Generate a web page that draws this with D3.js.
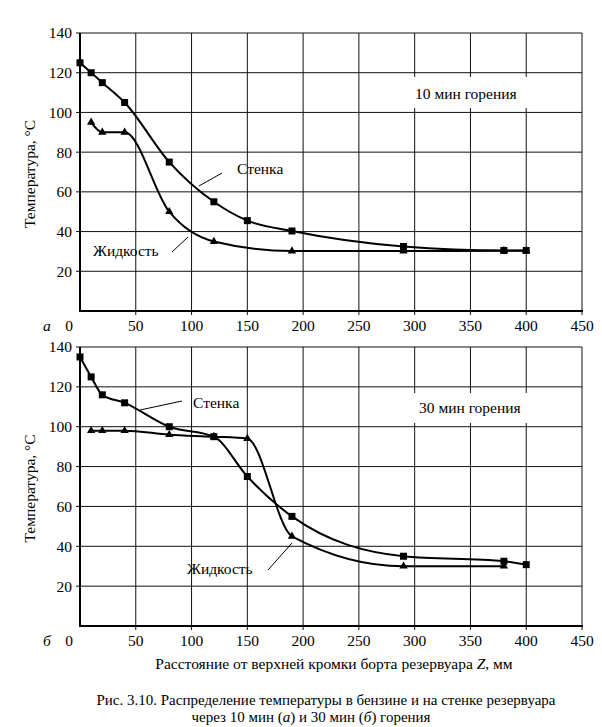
<!DOCTYPE html>
<html><head><meta charset="utf-8">
<script src="https://cdn.jsdelivr.net/npm/d3@7"></script>
<style>
body{margin:0;background:#fff;}
</style></head>
<body><svg id="c" width="602" height="727"></svg>
<script>
// ---- data ----
const xTicks = [0,50,100,150,200,250,300,350,400,450];
const yTicks = [20,40,60,80,100,120,140];

// Panel а (10 min)
const wallZ_a   = [0,10,20,40,80,120,150,190,290,380,400];
const wallT_a   = [125,120,115,105,75,55,45.5,40.3,32.5,30.5,30.5];
const liqZ_a    = [10,20,40,80,120,190,290,380,400];
const liqT_a    = [95,90,90,50,35,30.2,30.2,30.3,30.3];

// Panel б (30 min)
const wallZ_b   = [0,10,20,40,80,120,150,190,290,380,400];
const wallT_b   = [135,125,116,112,100,95,75,55,35,32.5,30.8];
const liqZ_b    = [10,20,40,80,120,150,190,290,380];
const liqT_b    = [98,98,98,96,95,94,45,30,30];

const FONT = "'Liberation Serif', 'Times New Roman', serif";
const svg = d3.select("#c");
const x = d3.scaleLinear().domain([0,450]).range([80,582]);

function txt(g){ return g.append("text").style("font-family",FONT).attr("fill","#000"); }

function panel(top, bottom, wallZ, wallT, liqZ, liqT, cfg){
  const y = d3.scaleLinear().domain([0,140]).range([bottom, top]);
  const g = svg.append("g");
  // grid
  g.selectAll(".vg").data(xTicks.filter(d=>d>0)).enter().append("line")
    .attr("x1",d=>x(d)).attr("x2",d=>x(d)).attr("y1",y(140)).attr("y2",y(0)+4)
    .attr("stroke","#111").attr("stroke-width",1);
  g.selectAll(".hg").data(yTicks).enter().append("line")
    .attr("x1",x(0)-4).attr("x2",x(450)).attr("y1",d=>y(d)).attr("y2",d=>y(d))
    .attr("stroke","#111").attr("stroke-width",1);
  // axes
  g.append("line").attr("x1",x(0)).attr("x2",x(0)).attr("y1",y(140)).attr("y2",y(0)+1)
    .attr("stroke","#000").attr("stroke-width",2);
  g.append("line").attr("x1",x(0)-1).attr("x2",x(450)+1).attr("y1",y(0)).attr("y2",y(0))
    .attr("stroke","#000").attr("stroke-width",2);
  // tick labels
  g.selectAll(".yl").data(yTicks).enter().append("text").style("font-family",FONT)
    .attr("x",72).attr("y",d=>y(d)).attr("dy","0.35em").attr("text-anchor","end")
    .attr("font-size",15.5).text(d=>d);
  g.selectAll(".xl").data(xTicks).enter().append("text").style("font-family",FONT)
    .attr("x",d=>d===0? x(d)-11 : x(d)).attr("y",y(0)+15).attr("dy","0.35em").attr("text-anchor","middle")
    .attr("font-size",15.5).text(d=>d);
  // y title
  txt(g).attr("transform",`translate(35,${(y(0)+y(140))/2+2}) rotate(-90)`)
    .attr("text-anchor","middle").attr("font-size",15.5).text("Температура, °С");
  // panel letter
  txt(g).attr("x",43).attr("y",y(0)+15).attr("dy","0.35em")
    .attr("font-style","italic").attr("font-size",15.5).text(cfg.letter);
  // label box
  g.append("rect").attr("x",cfg.box[0]).attr("y",cfg.box[1]).attr("width",cfg.box[2]).attr("height",cfg.box[3]).attr("fill","#fff");
  txt(g).attr("x",cfg.boxText[0]).attr("y",cfg.boxText[1]).attr("dy","0.35em")
    .attr("font-size",15.5).text(cfg.title);
  // curves
  const line = d3.line().x(d=>x(d[0])).y(d=>y(d[1])).curve(d3.curveMonotoneX);
  const wall = wallZ.map((z,i)=>[z,wallT[i]]);
  const liq = liqZ.map((z,i)=>[z,liqT[i]]);
  g.append("path").attr("d",line(wall)).attr("fill","none").attr("stroke","#000").attr("stroke-width",2);
  g.append("path").attr("d",line(liq)).attr("fill","none").attr("stroke","#000").attr("stroke-width",2);
  g.selectAll(".sq").data(wall).enter().append("rect")
    .attr("x",d=>x(d[0])-3.5).attr("y",d=>y(d[1])-3.5).attr("width",7).attr("height",7).attr("fill","#000");
  const tri = d3.symbol().type(d3.symbolTriangle).size(30);
  g.selectAll(".tr").data(liq).enter().append("path")
    .attr("d",tri).attr("transform",d=>`translate(${x(d[0])},${y(d[1])})`).attr("fill","#000");
  // annotations
  cfg.notes.forEach(n=>{
    txt(g).attr("x",n.tx).attr("y",n.ty).attr("dy","0.35em").attr("font-size",15.5).text(n.text);
    g.append("line").attr("x1",n.l[0]).attr("y1",n.l[1]).attr("x2",n.l[2]).attr("y2",n.l[3])
      .attr("stroke","#000").attr("stroke-width",1);
  });
}

panel(33, 311, wallZ_a, wallT_a, liqZ_a, liqT_a, {
  letter:"а", title:"10 мин горения", box:[405,77,127,31], boxText:[415,94],
  notes:[{text:"Стенка",tx:237,ty:169,l:[199,186,222,173]},
         {text:"Жидкость",tx:93,ty:251,l:[172,252,188,237]}]
});
panel(347, 626, wallZ_b, wallT_b, liqZ_b, liqT_b, {
  letter:"б", title:"30 мин горения", box:[410,393,125,30], boxText:[419,408],
  notes:[{text:"Стенка",tx:193,ty:403,l:[140,410,182,401]},
         {text:"Жидкость",tx:187,ty:569,l:[268,570,292,543]}]
});

// x-axis title
const xt = txt(svg).attr("x",334).attr("y",664).attr("dy","0.35em")
  .attr("text-anchor","middle").attr("font-size",15.5);
xt.append("tspan").text("Расстояние от верхней кромки борта резервуара ");
xt.append("tspan").attr("font-style","italic").text("Z");
xt.append("tspan").text(", мм");

// caption
txt(svg).attr("x",326).attr("y",700).attr("dy","0.35em").attr("text-anchor","middle")
  .attr("font-size",15).text("Рис. 3.10. Распределение температуры в бензине и на стенке резервуара");
const c2 = txt(svg).attr("x",311).attr("y",717).attr("dy","0.35em").attr("text-anchor","middle").attr("font-size",15);
c2.append("tspan").text("через 10 мин (");
c2.append("tspan").attr("font-style","italic").text("а");
c2.append("tspan").text(") и 30 мин (");
c2.append("tspan").attr("font-style","italic").text("б");
c2.append("tspan").text(") горения");
</script></body></html>
